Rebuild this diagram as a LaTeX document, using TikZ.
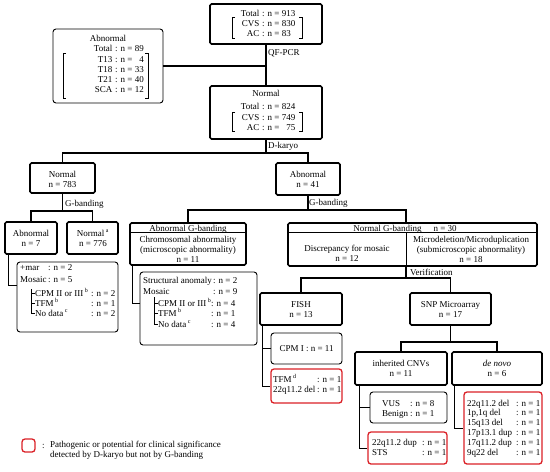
\documentclass[tikz,border=0pt]{standalone}
\usepackage{fontspec}
\setmainfont{Liberation Serif}
\usetikzlibrary{fit,calc}
\definecolor{redb}{RGB}{218,32,38}
\newcommand\rl[5]{\node[txt,anchor=east] (#1a) at (#2-2.5,#3) {#4}; \node[txt,anchor=west] (#1b) at (#2,#3) {#5};}
\newcommand\lft[6]{\node[txt,anchor=west] (#1a) at (#2,#4) {#5}; \node[txt,anchor=west] (#1b) at (#3,#4) {#6};}
\newcommand\brk[4]{\draw[brk] (#1+3,#3) -- (#1,#3) -- (#1,#4) -- (#1+3,#4); \draw[brk] (#2-3,#3) -- (#2,#3) -- (#2,#4) -- (#2-3,#4);}
\begin{document}
\begin{tikzpicture}[x=1pt,y=-1pt,
  mainbox/.style={draw, line width=1.6pt, rounded corners=1.5pt, inner sep=0pt},
  subbox/.style={draw, line width=0.9pt, rounded corners=3pt, inner sep=0pt},
  redbox/.style={draw=redb, line width=1.3pt, rounded corners=3pt, inner sep=0pt},
  txt/.style={font=\fontsize{9}{10}\selectfont, inner sep=0pt, text height=6pt, text depth=0pt},
  conn/.style={line width=1.5pt},
  thin/.style={line width=0.8pt},
  brk/.style={line width=0.7pt}]
\useasboundingbox (0,0) rectangle (550,472);

% ---------- boxes ----------
\node[mainbox, fit={(210,4)(322,44)}] (top) {};
\node[mainbox, fit={(210,86)(322,139)}] (normal) {};
\node[subbox, fit={(53,29)(163,103)}] (abn) {};
\node[mainbox, fit={(30,163)(95,193)}] (n783) {};
\node[mainbox, fit={(276,163)(340,195)}] (ab41) {};
\node[mainbox, fit={(5,222)(57,254)}] (ab7) {};
\node[mainbox, fit={(67,222)(118,254)}] (n776) {};
\node[subbox, fit={(17,262)(118,332)}] (sub7) {};
\node[mainbox, fit={(130,223)(246,265)}] (abg) {};
\node[subbox, fit={(140,272)(257,345)}] (sub11) {};
\node[mainbox, fit={(288,223)(537,266)}] (ng) {};
\node[mainbox, fit={(260,293)(342,325)}] (fish) {};
\node[mainbox, fit={(410,293)(491,325)}] (snp) {};
\node[subbox, fit={(271,333)(342,364)}] (cpm) {};
\node[redbox, fit={(271,369)(342,403)}] (fishred) {};
\node[mainbox, fit={(355,352)(447,385)}] (inh) {};
\node[mainbox, fit={(452,352)(542,385)}] (dn) {};
\node[subbox, fit={(370,392)(447,423)}] (vus) {};
\node[redbox, fit={(368,432)(447,464)}] (inhred) {};
\node[redbox, fit={(464,392)(542,464)}] (dnred) {};
\node[redbox, fit={(22,439)(35,452)}] (leg) {};

% box internals
\draw[line width=1pt] ([yshift=-10pt]abg.north west) -- ([yshift=-10pt]abg.north east);
\draw[line width=1pt] ([yshift=-10pt]ng.north west) -- ([yshift=-10pt]ng.north east);
\coordinate (ngtop) at (406,223);
\coordinate (ngdiv) at (406,233);
\draw[line width=0.9pt] (ngdiv) -- (ngdiv |- ng.south);

% ---------- connectors ----------
\draw[conn] (top.south) -- (normal.north);
\draw[conn] (abn.east) -- (abn.east -| top.south);
\coordinate (j1) at (normal.south |- 0,153);
\draw[conn] (normal.south) -- (j1);
\draw[conn] (n783.north) |- (j1) -| (ab41.north);
\coordinate (j2) at (n783.south |- 0,211);
\draw[conn] (n783.south) -- (j2);
\draw[conn] (ab7.north) |- (j2) -| (n776.north);
\coordinate (j3) at (ab41.south |- 0,210);
\draw[conn] (ab41.south) -- (j3);
\draw[conn] (abg.north) |- (j3) -| (ngtop);
\coordinate (j4) at (ngdiv |- 0,278);
\draw[conn] (ngdiv |- ng.south) -- (j4);
\draw[conn] (fish.north) |- (j4) -| (snp.north);
\coordinate (j5) at (snp.south |- 0,342);
\draw[conn] (snp.south) -- (j5);
\draw[conn] (inh.north) |- (j5) -| (dn.north);
% thin side connectors
\coordinate (c7) at (17,285);
\draw[thin] ($(ab7.south west)+(4,0)$) |- (c7);
\coordinate (c11) at (140,303);
\draw[thin] ($(abg.south west)+(3,0)$) |- (c11);
\coordinate (ft) at ($(fish.south west)+(3,0)$);
\draw[thin] (ft) |- (fishred.west);
\draw[thin] (cpm.west) -- (cpm.west -| ft);
\coordinate (it) at ($(inh.south west)+(5,0)$);
\draw[thin] (it) |- (inhred.west);
\draw[thin] (vus.west) -- (vus.west -| it);
\coordinate (dt) at ($(dn.south west)+(3,0)$);
\draw[thin] (dt) |- (dnred.west);

% ---------- labels ----------
\node[txt,anchor=west] (lqf) at (268,52) {QF-PCR};
\node[txt,anchor=west] (ldk) at (268,145) {D-karyo};
\node[txt,anchor=west] (lg1) at (65,203) {G-banding};
\node[txt,anchor=west] (lg2) at (309,202) {G-banding};
\node[txt,anchor=west] (lver) at (410,272) {Verification};

% ---------- texts ----------
\rl{tt}{262}{13}{Total}{: n = 913}
\rl{tc}{262}{23}{CVS}{: n = 830}
\rl{ta}{262}{33}{AC}{: n = 83}
\brk{232}{302}{17}{38}

\node[txt] (nt) at (266,93) {Normal};
\rl{nt}{262}{106}{Total}{: n = 824}
\rl{nc}{262}{117}{CVS}{: n = 749}
\rl{na}{262}{127}{AC}{: n = \hphantom{0}75}
\brk{232}{302}{112}{131}

\node[txt] (at) at (108,38) {Abnormal};
\rl{a0}{115}{48}{Total}{: n = 89}
\rl{a1}{115}{59}{T13}{: n = \hphantom{0}4}
\rl{a2}{115}{69}{T18}{: n = 33}
\rl{a3}{115}{79}{T21}{: n = 40}
\rl{a4}{115}{89}{SCA}{: n = 12}
\brk{63}{148}{53}{98}

\node[txt] (n783a) at (62.5,174) {Normal};
\node[txt] (n783b) at (62.5,184) {n = 783};
\node[txt] (ab41a) at (308,174) {Abnormal};
\node[txt] (ab41b) at (308,184) {n = 41};
\node[txt] (ab7a) at (31,233) {Abnormal};
\node[txt] (ab7b) at (31,243) {n = 7};
\node[txt] (n776a) at (93,233) {Normal\,\textsuperscript{a}};
\node[txt] (n776b) at (93,243) {n = 776};

\lft{s1}{20}{48}{267}{+mar}{: n = 2}
\lft{s2}{20}{48}{279}{Mosaic}{: n = 5}
\lft{s3}{35}{91}{293}{CPM II or III\,\textsuperscript{b}}{: n = 2}
\lft{s4}{35}{91}{303}{TFM\,\textsuperscript{b}}{: n = 1}
\lft{s5}{35}{91}{313}{No data\,\textsuperscript{c}}{: n = 2}
\draw[thin] (s3a.west) -- ++(-3.5,0) coordinate (tr1) -- (tr1 |- s5a.west) -- (s5a.west);
\draw[thin] (s4a.west) -- (s4a.west -| tr1);
\draw[thin] (tr1) -- ++(0,-4);

\node[txt] (abg1) at (188,228) {Abnormal G-banding};
\node[txt] (abg2) at (188,239) {Chromosomal abnormality};
\node[txt] (abg3) at (188,249) {(microscopic abnormality)};
\node[txt] (abg4) at (188,259) {n = 11};

\lft{u1}{143}{213}{280}{Structural anomaly}{: n = 2}
\lft{u2}{143}{213}{291}{Mosaic}{: n = 9}
\lft{u3}{158}{211}{303}{CPM II or III\,\textsuperscript{b}}{: n = 4}
\lft{u4}{158}{211}{313}{TFM\,\textsuperscript{b}}{: n = 1}
\lft{u5}{158}{211}{324}{No data\,\textsuperscript{c}}{: n = 4}
\draw[thin] (u3a.west) -- ++(-3.5,0) coordinate (tr2) -- (tr2 |- u5a.west) -- (u5a.west);
\draw[thin] (u4a.west) -- (u4a.west -| tr2);
\draw[thin] (tr2) -- ++(0,-6);

\node[txt] (ng0) at (405,228) {Normal G-banding\hspace{12pt}n = 30};
\node[txt] (ng1) at (347,248) {Discrepancy for mosaic};
\node[txt] (ng2) at (347,258) {n = 12};
\node[txt] (ng3) at (471,239) {Microdeletion/Microduplication};
\node[txt] (ng4) at (471,249) {(submicroscopic abnormality)};
\node[txt] (ng5) at (471,259) {n = 18};

\node[txt] (f1) at (301,304) {FISH};
\node[txt] (f2) at (301,314) {n = 13};
\node[txt] (sn1) at (450.5,304) {SNP Microarray};
\node[txt] (sn2) at (450.5,314) {n = 17};
\node[txt] (cp1) at (306.5,348.5) {CPM I : n = 11};
\lft{fr1}{273}{317}{379}{TFM\,\textsuperscript{d}}{: n = 1}
\lft{fr2}{273}{317}{389}{22q11.2 del}{: n = 1}

\node[txt] (in1) at (401,363) {inherited CNVs};
\node[txt] (in2) at (401,373) {n = 11};
\node[txt] (dn1) at (497,363) {\itshape de novo};
\node[txt] (dn2) at (497,373) {n = 6};
\lft{v1}{382}{410}{403}{VUS}{: n = 8}
\lft{v2}{382}{410}{413}{Benign}{: n = 1}
\lft{ir1}{372}{422}{442}{22q11.2 dup}{: n = 1}
\lft{ir2}{372}{422}{452}{STS}{: n = 1}

\lft{d1}{467}{516}{403}{22q11.2 del}{: n = 1}
\lft{d2}{467}{516}{412.8}{1p,1q del}{: n = 1}
\lft{d3}{467}{516}{422.6}{15q13 del}{: n = 1}
\lft{d4}{467}{516}{432.4}{17p13.1 dup}{: n = 1}
\lft{d5}{467}{516}{442.2}{17q11.2 dup}{: n = 1}
\lft{d6}{467}{516}{452}{9q22 del}{: n = 1}

\node[txt,anchor=west] (legc) at (42,445) {:};
\node[txt,anchor=west] (leg1) at (50,444) {Pathogenic or potential for clinical significance};
\node[txt,anchor=west] (leg2) at (50,454) {detected by D-karyo but not by G-banding};
\end{tikzpicture}
\end{document}
